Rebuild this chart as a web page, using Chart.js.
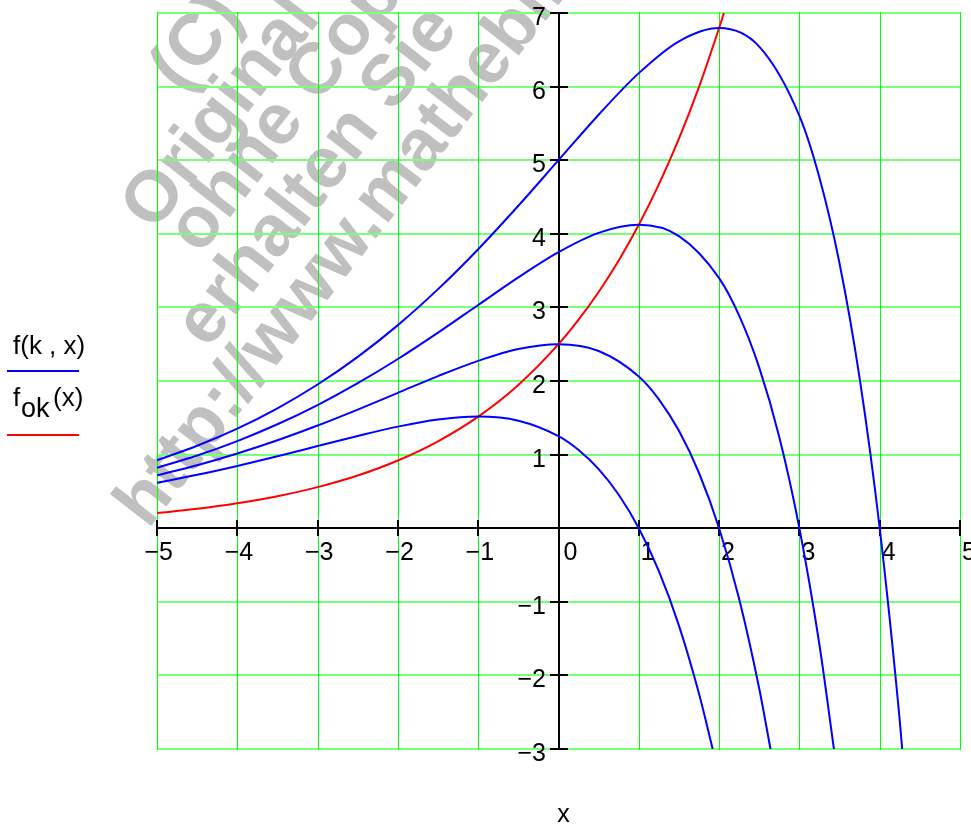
<!DOCTYPE html>
<html>
<head>
<meta charset="utf-8">
<script src="https://cdn.jsdelivr.net/npm/chart.js@4.4.0/dist/chart.umd.min.js"></script>
<style>
  html, body { margin: 0; padding: 0; background: #fff; }
  #wrap { width: 971px; height: 825px; position: relative; }
</style>
</head>
<body>
<div id="wrap"><canvas id="myChart"></canvas></div>
<script>
// values: f(k,x) for k = 1..4 and f_ok(x)
const xK1 = [-5, -4.5, -4, -3.5, -3, -2.5, -2, -1.5, -1, -0.5, 0, 0.25, 0.5, 0.75, 1, 1.25, 1.5, 1.75, 1.92];
const yK1 = [0.616, 0.725, 0.846, 0.977, 1.116, 1.253, 1.380, 1.476, 1.516, 1.460, 1.25, 1.062, 0.803, 0.455, 0, -0.584, -1.323, -2.249, -3.0];

const xK2 = [-5, -4.5, -4, -3.5, -3, -2.5, -2, -1.5, -1, -0.5, 0, 0.5, 1, 1.25, 1.5, 1.75, 2, 2.25, 2.5, 2.64];
const yK2 = [0.718, 0.856, 1.015, 1.195, 1.395, 1.612, 1.839, 2.067, 2.274, 2.434, 2.5, 2.408, 2.061, 1.751, 1.323, 0.750, 0, -0.963, -2.181, -3.0];

const xK3 = [-5, -4.5, -4, -3.5, -3, -2.5, -2, -1.5, -1, -0.5, 0, 0.5, 1, 1.5, 2, 2.25, 2.5, 2.75, 3, 3.25, 3.43];
const yK3 = [0.821, 0.988, 1.184, 1.412, 1.673, 1.970, 2.299, 2.657, 3.033, 3.407, 3.75, 4.013, 4.122, 3.969, 3.398, 2.888, 2.181, 1.236, 0, -1.587, -3.0];

const xK4 = [-5, -4.5, -4, -3.5, -3, -2.5, -2, -1.5, -1, -0.5, 0, 0.5, 1, 1.5, 2, 2.5, 3, 3.25, 3.5, 3.75, 4, 4.25, 4.28];
const yK4 = [0.923, 1.120, 1.353, 1.629, 1.952, 2.328, 2.759, 3.248, 3.791, 4.381, 5, 5.618, 6.183, 6.616, 6.796, 6.544, 5.602, 4.761, 3.597, 2.038, 0, -2.617, -3.0];

const xOk = [-5, -4.5, -4, -3.5, -3, -2.5, -2, -1.5, -1, -0.5, 0, 0.25, 0.5, 0.75, 1, 1.25, 1.5, 1.75, 2, 2.06];
const yOk = [0.205, 0.263, 0.338, 0.434, 0.558, 0.716, 0.920, 1.181, 1.516, 1.947, 2.5, 2.833, 3.210, 3.637, 4.122, 4.671, 5.293, 5.997, 6.796, 7.0];

const xTickVals = [-5, -4, -3, -2, -1, 0, 1, 2, 3, 4, 5];
const yTickVals = [-3, -2, -1, 0, 1, 2, 3, 4, 5, 6, 7];

// watermark lines: text, baseline start x, y
const markLines = [
  ['(C)', 183, 95],
  ['Original', 154, 233],
  ['ohne Copyright', 200, 256],
  ['erhalten Sie', 208, 350],
  ['http://www.mathebibel.de', 148, 530]
];

const FONT = '"Liberation Sans", Arial, sans-serif';
const MINUS = '\u2212';

const pts = (xs, ys) => xs.map((x, i) => ({x: x, y: ys[i]}));

const watermark = {
  id: 'watermark',
  beforeDraw(chart) {
    const ctx = chart.ctx;
    ctx.save();
    ctx.font = 'bold 72px ' + FONT;
    ctx.fillStyle = '#c0c0c0';
    markLines.forEach(([txt, x, y]) => {
      ctx.save();
      ctx.translate(x, y);
      ctx.rotate(-52 * Math.PI / 180);
      ctx.fillText(txt, 0, 0);
      ctx.restore();
    });
    ctx.restore();
  }
};

// green grid plus mathcad style axes crossing at the origin
const crossAxes = {
  id: 'crossAxes',
  beforeDatasetsDraw(chart) {
    const {ctx, chartArea: a} = chart;
    const sx = chart.scales.x, sy = chart.scales.y;
    const x0 = Math.round(sx.getPixelForValue(0));
    const y0 = Math.round(sy.getPixelForValue(0));
    ctx.save();

    ctx.strokeStyle = 'rgb(120,255,120)';
    ctx.lineWidth = 2;
    ctx.beginPath();
    sy.ticks.forEach(t => {
      const py = Math.round(sy.getPixelForValue(t.value));
      ctx.moveTo(a.left, py); ctx.lineTo(a.right + 1, py);
    });
    ctx.stroke();
    ctx.strokeStyle = '#00ff00';
    ctx.lineWidth = 1;
    ctx.beginPath();
    sx.ticks.forEach(t => {
      const px = Math.round(sx.getPixelForValue(t.value)) + 0.5;
      ctx.moveTo(px, a.top - 1); ctx.lineTo(px, a.bottom + 1);
    });
    ctx.stroke();

    ctx.strokeStyle = '#000';
    ctx.lineWidth = 2;
    ctx.beginPath();
    ctx.moveTo(a.left, y0); ctx.lineTo(a.right, y0);
    ctx.moveTo(x0, a.top); ctx.lineTo(x0, a.bottom);
    sx.ticks.forEach(t => {
      const px = Math.round(sx.getPixelForValue(t.value));
      ctx.moveTo(px, y0 - 8); ctx.lineTo(px, y0 + 8);
    });
    sy.ticks.forEach(t => {
      const py = Math.round(sy.getPixelForValue(t.value));
      ctx.moveTo(x0 - 9, py); ctx.lineTo(x0 + 9, py);
    });
    ctx.stroke();

    ctx.fillStyle = '#000';
    ctx.font = '25px ' + FONT;
    ctx.textBaseline = 'alphabetic';
    ctx.textAlign = 'left';
    sx.ticks.forEach(t => {
      const v = t.value;
      const px = sx.getPixelForValue(v);
      let start = px + (v === 0 ? 5 : 2);
      if (v < 0) start -= ctx.measureText(MINUS).width;
      ctx.fillText((v < 0 ? MINUS : '') + Math.abs(v), start, y0 + 32);
    });
    ctx.textAlign = 'right';
    sy.ticks.forEach(t => {
      const v = t.value;
      if (v === 0) return;
      const py = sy.getPixelForValue(v);
      ctx.fillText((v < 0 ? MINUS : '') + Math.abs(v), x0 - 13, py + 12);
    });
    ctx.restore();
  },
  afterDraw(chart) {
    const {ctx, chartArea: a} = chart;
    ctx.save();
    ctx.fillStyle = '#000';
    ctx.textBaseline = 'alphabetic';
    ctx.font = '25px ' + FONT;
    ctx.textAlign = 'center';
    ctx.fillText('x', (a.left + a.right) / 2 + 5, 822);

    // legend on the left
    ctx.textAlign = 'left';
    ctx.font = '26px ' + FONT;
    ctx.fillText('f(k , x)', 13, 354);
    ctx.fillText('f', 13, 406);
    ctx.fillText('(x)', 53, 406);
    ctx.font = '27px ' + FONT;
    ctx.fillText('ok', 21, 417);
    ctx.lineWidth = 2;
    ctx.strokeStyle = '#0000ff';
    ctx.beginPath(); ctx.moveTo(7, 371); ctx.lineTo(79, 371); ctx.stroke();
    ctx.strokeStyle = '#ff0000';
    ctx.beginPath(); ctx.moveTo(7, 435); ctx.lineTo(79, 435); ctx.stroke();
    ctx.restore();
  }
};

const blue = (xs, ys) => ({
  data: pts(xs, ys),
  borderColor: '#0000ff',
  borderWidth: 2,
  pointRadius: 0,
  cubicInterpolationMode: 'monotone'
});

const config = {
  type: 'line',
  data: {
    datasets: [
      blue(xK1, yK1),
      blue(xK2, yK2),
      blue(xK3, yK3),
      blue(xK4, yK4),
      {
        data: pts(xOk, yOk),
        borderColor: '#ff0000',
        borderWidth: 2,
        pointRadius: 0,
        cubicInterpolationMode: 'monotone'
      }
    ]
  },
  options: {
    responsive: true,
    maintainAspectRatio: false,
    animation: false,
    layout: { padding: { left: 157, right: 11, top: 13, bottom: 76 } },
    plugins: { legend: { display: false }, tooltip: { enabled: false } },
    scales: {
      x: {
        type: 'linear', min: -5, max: 5,
        afterBuildTicks: s => { s.ticks = xTickVals.map(v => ({value: v})); },
        ticks: { display: false },
        border: { display: false },
        grid: { display: false, drawTicks: false }
      },
      y: {
        type: 'linear', min: -3, max: 7,
        afterBuildTicks: s => { s.ticks = yTickVals.map(v => ({value: v})); },
        ticks: { display: false },
        border: { display: false },
        grid: { display: false, drawTicks: false }
      }
    }
  },
  plugins: [watermark, crossAxes]
};

const myChart = new Chart(document.getElementById('myChart'), config);
</script>
</body>
</html>
